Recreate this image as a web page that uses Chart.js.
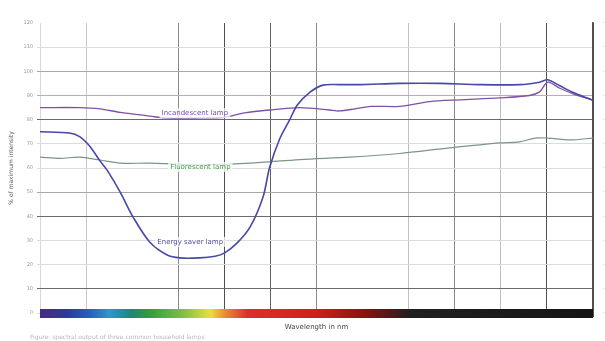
<!DOCTYPE html>
<html><head><meta charset="utf-8">
<script src="https://cdn.jsdelivr.net/npm/chart.js@4/dist/chart.umd.min.js"></script>
<style>html,body{margin:0;padding:0;background:#fff}#wrap{width:605px;height:341px}</style>
</head><body><div id="wrap"><canvas id="c" width="605" height="341"></canvas></div>
<script>
// Data (wavelength in nm, % of maximum intensity)
const saverWl   = [400,432,443,454,465,473,487,501,519,538,552,573,590,600,614,628,642,649,660,671,679,693,707,725,747,790,834,877,920,942,951,964,980,1000];
const saverVal  = [75,74.5,73,69,63,59,50,39.7,29.4,24,22.8,22.8,23.5,24.8,29,35.6,48,60,72,80,86,91.4,94.3,94.5,94.5,95,95,94.5,94.5,95.5,96.5,94,91,88];
const incandWl  = [400,443,465,487,519,536,573,600,622,649,682,714,725,742,759,790,823,855,899,931,942,951,964,980,1000];
const incandVal = [85,85,84.5,83,81.5,80.7,80.7,81,82.8,84,85,84,83.6,84.5,85.5,85.5,87.5,88.2,89,90,91.5,95.5,93,90.5,88];
const fluorWl   = [400,422,443,465,487,519,573,628,682,736,790,844,899,920,937,951,975,1000];
const fluorVal  = [64.5,64,64.5,63.3,62,62,61.3,62,63.5,64.5,66,68.3,70.4,70.8,72.4,72.4,71.6,72.4];
const yTicks = [0,10,20,30,40,50,60,70,80,90,100,110,120];
const labels = [
  {text:'Incandescent lamp', wl:568, v:82.7, color:'#7a48b0'},
  {text:'Fluorescent lamp', wl:574, v:60.4, color:'#3f9a4a'},
  {text:'Energy saver lamp', wl:563, v:29.4, color:'#4a4aa0'}
];
const xTitle = 'Wavelength in nm';
const yTitle = '% of maximum intensity';
const caption = 'Figure: spectral output of three common household lamps';

const toXY = (w, v) => w.map((x, i) => ({x, y: v[i]}));

const spectrum = {
  id: 'spectrum',
  beforeDatasetsDraw(chart) {
    const {ctx} = chart;
    const xs = chart.scales.x;
    const ys = chart.scales.y;
    const y0 = ys.getPixelForValue(0);
    const l = xs.getPixelForValue(400), r = xs.getPixelForValue(1000);
    const g = ctx.createLinearGradient(l, 0, r, 0);
    const stops = [[400,'#4a2a80'],[430,'#2a3aa0'],[455,'#2a60c0'],[475,'#2898d0'],[500,'#1a8a70'],[520,'#30a040'],[555,'#80c040'],[585,'#e8e040'],[600,'#e89030'],[625,'#d83030'],[700,'#cc2020'],[760,'#801010'],[800,'#202020'],[1000,'#151515']];
    stops.forEach(s => g.addColorStop((s[0]-400)/600, s[1]));
    ctx.save();
    ctx.fillStyle = g;
    ctx.fillRect(l, y0 - 4, r - l, 9);
    ctx.restore();
  },
  afterDraw(chart) {
    const {ctx} = chart;
    const xs = chart.scales.x, ys = chart.scales.y;
    ctx.save();
    ctx.font = '7px "DejaVu Sans"';
    ctx.textAlign = 'center';
    ctx.textBaseline = 'middle';
    labels.forEach(L => {
      const px = xs.getPixelForValue(L.wl), py = ys.getPixelForValue(L.v);
      const w = ctx.measureText(L.text).width;
      ctx.fillStyle = 'rgba(255,255,255,0.75)';
      ctx.fillRect(px - w/2 - 2, py - 5, w + 4, 10);
      ctx.fillStyle = L.color;
      ctx.fillText(L.text, px, py);
    });
    ctx.font = '6px "DejaVu Sans"';
    ctx.textAlign = 'left';
    ctx.fillStyle = '#b8b8b8';
    ctx.fillText(caption, 30, 337);
    ctx.restore();
  }
};

const xGridColors = ['#d8d8d8','#c8c8c8','rgba(0,0,0,0)','#8a8a8a','#505050','#606060','#8a8a8a','rgba(0,0,0,0)','#c0c0c0','#8a8a8a','#c0c0c0','#505050','#505050'];
const yGridColor = v => {
  if (v === 80 || v === 40 || v === 10) return '#6a6a6a';
  if (v === 100 || v === 50) return '#a8a8a8';
  if (v === 90) return '#c8a8b8';
  if (v === 120) return 'rgba(0,0,0,0)';
  return '#dcdcdc';
};

new Chart(document.getElementById('c'), {
  type: 'line',
  data: {
    datasets: [
      {label: labels[2].text, data: toXY(saverWl, saverVal), borderColor: '#4848a8', borderWidth: 1.6, tension: 0.3, pointRadius: 0, yAxisID: 'y'},
      {label: labels[0].text, data: toXY(incandWl, incandVal), borderColor: '#8050a8', borderWidth: 1.3, tension: 0.3, pointRadius: 0, yAxisID: 'y'},
      {label: labels[1].text, data: toXY(fluorWl, fluorVal), borderColor: '#7d9488', borderWidth: 1.2, tension: 0.3, pointRadius: 0, yAxisID: 'y'}
    ]
  },
  options: {
    responsive: false,
    animation: false,
    devicePixelRatio: 1,
    layout: {padding: {top: 23, left: 0, right: 0, bottom: 0}},
    plugins: {legend: {display: false}, tooltip: {enabled: false}},
    scales: {
      x: {
        type: 'linear', min: 400, max: 1000,
        afterBuildTicks: s => { s.ticks = []; for (let w = 400; w <= 1000; w += 50) s.ticks.push({value: w}); },
        afterFit: s => { s.height = 28; },
        ticks: {display: false},
        grid: {color: c => xGridColors[c.index] || '#ccc', lineWidth: 1, drawTicks: true, tickLength: 4},
        border: {display: false},
        title: {display: true, text: xTitle, font: {family: 'DejaVu Sans', size: 7}, color: '#444', padding: {top: 0, bottom: 10}}
      },
      y: {
        min: 0, max: 120, position: 'left',
        afterBuildTicks: s => { s.ticks = yTicks.map(v => ({value: v})); },
        afterFit: s => { s.width = 40; },
        ticks: {font: {family: 'DejaVu Sans', size: 5}, color: '#999', padding: 4},
        grid: {color: c => yGridColor(c.tick.value), lineWidth: 1, drawTicks: true, tickLength: 3},
        border: {display: false},
        title: {display: true, text: yTitle, font: {family: 'DejaVu Sans', size: 6}, color: '#555', padding: {top: 8, bottom: 4}}
      },
      y2: {
        min: 0, max: 120, position: 'right',
        afterBuildTicks: s => { s.ticks = yTicks.map(v => ({value: v})); },
        afterFit: s => { s.width = 12; },
        ticks: {font: {family: 'DejaVu Sans', size: 5}, color: '#aaa', padding: 2, callback: () => '–'},
        grid: {display: false},
        border: {display: true, color: '#505050', width: 1.5}
      }
    }
  },
  plugins: [spectrum]
});
</script>
</body></html>
